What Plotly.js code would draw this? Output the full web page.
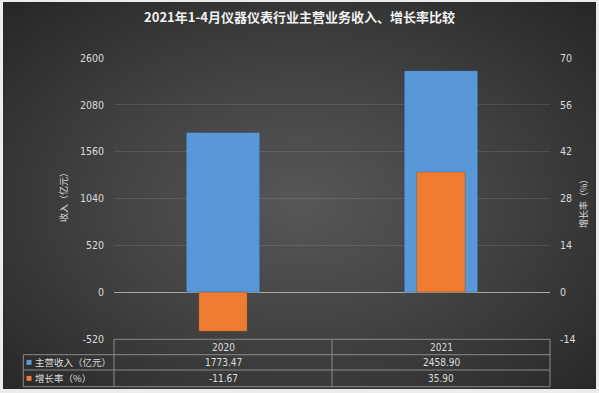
<!DOCTYPE html>
<html>
<head>
<meta charset="utf-8">
<script src="https://cdn.plot.ly/plotly-3.0.1.min.js"></script>
<style>
  html, body { margin:0; padding:0; background:#ececec; }
  #wrap { position:relative; width:599px; height:393px; overflow:hidden; }
  #bg { position:absolute; left:3px; top:2px; width:593px; height:387px;
        background: radial-gradient(ellipse farthest-corner at 50% 52%, #575757 0%, #434343 45%, #262626 100%); }
  #chart { position:absolute; left:0; top:0; width:599px; height:393px; }
</style>
</head>
<body>
<div id="wrap"><div id="bg"></div><div id="chart"></div></div>
<script>
// ---- data ----
const years = ['2020', '2021'];
const revenue = [1773.47, 2458.90];      // 主营收入（亿元）
const growth = [-11.67, 35.90];          // 增长率（%）
const seriesNames = ['主营收入（亿元）', '增长率（%）'];
const leftTicks = [-520, 0, 520, 1040, 1560, 2080, 2600];
const rightTicks = [-14, 0, 14, 28, 42, 56, 70];
const titleText = '2021年1-4月仪器仪表行业主营业务收入、增长率比较';
const leftTitle = '收入（亿元）';
const rightTitle = '增长率（%）';

// ---- style ----
const BLUE = '#5898d8';
const ORANGE = '#ee7b2f';
const TXT = '#dcdcdc';
const LINE = '#8a8a8a';
const numFont = 'Liberation Sans Narrow, DejaVu Sans Condensed, Liberation Sans, sans-serif';
const cjkFont = 'Noto Sans CJK SC, sans-serif';

const W = 599, H = 393, ML = 114, MR = 49, MT = 58, MB = 54;
const PW = W - ML - MR, PH = H - MT - MB;
const px = p => (p - ML) / PW;
const py = p => (H - MB - p) / PH;

const traces = [
  { type:'bar', x: years, y: revenue, name: seriesNames[0], yaxis:'y',
    width: 0.337, marker:{ color: BLUE, line:{ color:'rgba(0,0,0,0.25)', width:0.6 } },
    hoverinfo:'skip' },
  { type:'bar', x: years, y: growth, name: seriesNames[1], yaxis:'y2',
    width: 0.222, marker:{ color: ORANGE, line:{ color:'rgba(0,0,0,0.25)', width:0.6 } },
    hoverinfo:'skip' }
];

// table geometry (pixels)
const tTop = 339.3, r1 = 354.7, r2 = 370, tBot = 386.7;
const xL = 23.3, xA = ML, xMid = ML + PW / 2, xR = ML + PW;
const shapes = [];
function hline(x0, x1, y) { shapes.push({ type:'line', xref:'paper', yref:'paper', x0:px(x0), x1:px(x1), y0:py(y), y1:py(y), line:{ color:LINE, width:1 } }); }
function vline(x, y0, y1) { shapes.push({ type:'line', xref:'paper', yref:'paper', x0:px(x), x1:px(x), y0:py(y0), y1:py(y1), line:{ color:LINE, width:1 } }); }
hline(xA, xR, tTop); hline(xL, xR, r1); hline(xL, xR, r2); hline(xL, xR, tBot);
vline(xL, r1, tBot); vline(xA, tTop, tBot); vline(xMid, tTop, tBot); vline(xR, tTop, tBot);
// legend keys
const rowsY = [(r1 + r2) / 2, (r2 + tBot) / 2];
[BLUE, ORANGE].forEach((c, i) => {
  shapes.push({ type:'rect', xref:'paper', yref:'paper', x0:px(26.5), x1:px(31.5), y0:py(rowsY[i] - 2.5), y1:py(rowsY[i] + 2.5), fillcolor:c, line:{ width:0 } });
});

const annotations = [];
const colX = [(xA + xMid) / 2, (xMid + xR) / 2];
years.forEach((yr, i) => {
  annotations.push({ xref:'paper', yref:'paper', x:px(colX[i]), y:py((tTop + r1) / 2), text:yr, showarrow:false, xanchor:'center', yanchor:'middle', font:{ family:numFont, size:10, color:TXT } });
  annotations.push({ xref:'paper', yref:'paper', x:px(colX[i]), y:py(rowsY[0]), text:revenue[i].toFixed(2), showarrow:false, xanchor:'center', yanchor:'middle', font:{ family:numFont, size:10, color:TXT } });
  annotations.push({ xref:'paper', yref:'paper', x:px(colX[i]), y:py(rowsY[1]), text:growth[i].toFixed(2), showarrow:false, xanchor:'center', yanchor:'middle', font:{ family:numFont, size:10, color:TXT } });
});
seriesNames.forEach((n, i) => {
  annotations.push({ xref:'paper', yref:'paper', x:px(33), y:py(rowsY[i]), text:n, showarrow:false, xanchor:'left', yanchor:'middle', font:{ family:cjkFont, size:9.5, color:TXT } });
});
annotations.push({ xref:'paper', yref:'paper', x:px(63), y:py(195), text:leftTitle, textangle:-90, showarrow:false, xanchor:'center', yanchor:'middle', font:{ family:cjkFont, size:9, color:TXT } });
annotations.push({ xref:'paper', yref:'paper', x:px(583), y:py(202), text:rightTitle, textangle:-90, showarrow:false, xanchor:'center', yanchor:'middle', font:{ family:cjkFont, size:9, color:TXT } });

const layout = {
  width: W, height: H,
  margin: { l:ML, r:MR, t:MT, b:MB, pad:0 },
  paper_bgcolor:'rgba(0,0,0,0)', plot_bgcolor:'rgba(0,0,0,0)',
  showlegend:false,
  barmode:'overlay',
  title: { text: '<b>' + titleText + '</b>', x:0.5, xanchor:'center', y: 1 - 17/H, yref:'container', yanchor:'middle',
           font:{ family:cjkFont, size:13, color:'#f2f2f2' } },
  xaxis: { type:'category', range:[-0.5, 1.5], showticklabels:false, showgrid:false, zeroline:false, showline:false, fixedrange:true },
  yaxis: { range:[-520, 2600], tickmode:'array', tickvals:leftTicks, ticktext:leftTicks.map(String),
           tickfont:{ family:numFont, size:10.5, color:TXT }, ticklabelstandoff:9,
           gridcolor:'rgba(255,255,255,0.11)', gridwidth:1,
           zeroline:true, zerolinecolor:'#a9a9a9', zerolinewidth:1, showline:false, fixedrange:true },
  yaxis2: { overlaying:'y', side:'right', range:[-14, 70], tickmode:'array', tickvals:rightTicks, ticktext:rightTicks.map(String),
            tickfont:{ family:numFont, size:10.5, color:TXT }, ticklabelstandoff:9,
            showgrid:false, zeroline:false, showline:false, fixedrange:true },
  shapes: shapes,
  annotations: annotations
};

Plotly.newPlot('chart', traces, layout, { staticPlot:true, displayModeBar:false });
</script>
</body>
</html>
